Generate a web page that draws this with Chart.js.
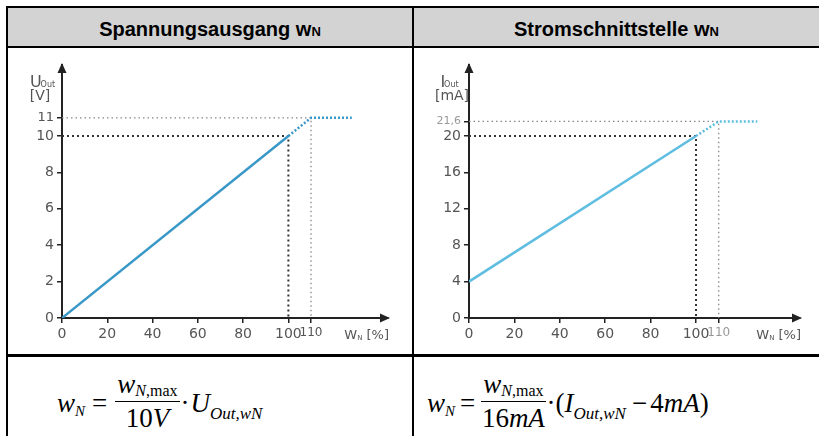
<!DOCTYPE html>
<html lang="de">
<head>
<meta charset="UTF-8">
<title>Spannungsausgang / Stromschnittstelle</title>
<script src="https://cdn.jsdelivr.net/npm/chart.js"></script>
<style>
  body { margin: 0; background: #fff; }
  #page { position: relative; width: 819px; height: 436px; overflow: hidden; background: #fff; }
  .line { position: absolute; background: #000; }
  .head { position: absolute; top: 8px; height: 38px; background: #d3d3d3; text-align: center;
          font: bold 20px "Liberation Sans", Arial, sans-serif; line-height: 42px; color: #000; }
  .head sub { font-size: 13px; vertical-align: 0; line-height: 0; }
  canvas { position: absolute; }
  .formula { position: absolute; top: 369px; font-family: "Liberation Serif", "Times New Roman", serif;
             font-size: 27px; line-height: 30px; color: #000; white-space: nowrap; }
  .formula sub { font-size: 17px; vertical-align: -7px; line-height: 0; }
  .formula sub.n { font-size: 15px; vertical-align: -4px; }
  .frac { display: inline-block; vertical-align: -15px; text-align: center; margin: 0 1px; }
  .frac .num { display: block; height: 30px; line-height: 30px; padding: 0 2px 2px; border-bottom: 1px solid #000; }
  .frac .num sub { font-size: 16px; vertical-align: -3px; }
  .frac .den { display: block; height: 28px; line-height: 28px; padding-top: 2px; }
  .op { margin: 0 7px; }
</style>
</head>
<body>
<div id="page">
  <div class="head" style="left:8px;width:404px;"><span>Spannungsausgang w<sub>N</sub></span></div>
  <div class="head" style="left:414px;width:405px;"><span>Stromschnittstelle w<sub>N</sub></span></div>

  <div class="line" style="left:6px;top:6px;width:813px;height:2px;"></div>
  <div class="line" style="left:6px;top:6px;width:2px;height:430px;"></div>
  <div class="line" style="left:6px;top:46px;width:813px;height:2px;"></div>
  <div class="line" style="left:412px;top:6px;width:2px;height:430px;"></div>
  <div class="line" style="left:6px;top:354px;width:813px;height:3px;"></div>

  <canvas id="chartU" width="404" height="306" style="left:8px;top:48px;"></canvas>
  <canvas id="chartI" width="405" height="306" style="left:414px;top:48px;"></canvas>

  <div class="formula" style="left:57px;"><i>w</i><sub class="n"><i>N</i></sub><span class="op">=</span><span class="frac"><span class="num"><i>w</i><sub><i>N</i>,max</sub></span><span class="den">10<i>V</i></span></span><span style="margin-right:1px;">&middot;</span><i>U</i><sub><i>Out,wN</i></sub></div>
  <div class="formula" style="left:427px;"><i>w</i><sub class="n"><i>N</i></sub><span class="op" style="margin:0 5px;">=</span><span class="frac"><span class="num"><i>w</i><sub><i>N</i>,max</sub></span><span class="den">16<i>mA</i></span></span><span>&middot;(</span><i>I</i><sub><i>Out,wN</i></sub><span class="op" style="margin:0 3px 0 6px;">&minus;</span>4<i>mA</i>)</div>
</div>

<script>
// x axis: w_N in %
const xTicks = [0, 20, 40, 60, 80, 100, 110];

// voltage output
const uTicks = [0, 2, 4, 6, 8, 10, 11];
const uLineX = [0, 100];
const uLineY = [0, 10];
const uSatX = [100, 110, 128];
const uSatY = [10, 11, 11];

// current interface
const iTicks = [0, 4, 8, 12, 16, 20, 21.6];
const iLineX = [0, 100];
const iLineY = [4, 20];
const iSatX = [100, 110, 127];
const iSatY = [20, 21.6, 21.6];

const tickFont = 'DejaVu Sans';
const tickColor = '#555';

function pts(xs, ys) {
    return xs.map((x, i) => ({ x: x, y: ys[i] }));
}

// arrows at the axis ends and the axis names
const axisDecor = {
    id: 'axisDecor',
    afterDraw(chart, args, opts) {
        const ctx = chart.ctx;
        const a = chart.chartArea;
        ctx.save();
        ctx.fillStyle = '#222';
        ctx.beginPath();
        ctx.moveTo(a.right + 2, a.bottom);
        ctx.lineTo(a.right - 8, a.bottom - 4.5);
        ctx.lineTo(a.right - 8, a.bottom + 4.5);
        ctx.closePath();
        ctx.fill();
        ctx.beginPath();
        ctx.moveTo(a.left, a.top - 2);
        ctx.lineTo(a.left - 4.5, a.top + 8);
        ctx.lineTo(a.left + 4.5, a.top + 8);
        ctx.closePath();
        ctx.fill();

        ctx.fillStyle = tickColor;
        ctx.textBaseline = 'alphabetic';
        // y name with subscript
        ctx.font = '16px ' + tickFont;
        const bw = ctx.measureText(opts.yName).width;
        ctx.font = '8px ' + tickFont;
        const sw = ctx.measureText('Out').width;
        let x0 = a.left - 19 - (bw + sw) / 2;
        ctx.font = '16px ' + tickFont;
        ctx.fillText(opts.yName, x0, a.top + 22);
        ctx.font = '8px ' + tickFont;
        ctx.fillText('Out', x0 + bw - 1, a.top + 22);
        ctx.font = '14px ' + tickFont;
        ctx.textAlign = 'center';
        ctx.fillText(opts.yUnit, a.left - 19 + opts.unitShift, a.top + 35);

        // x name
        ctx.textAlign = 'left';
        ctx.font = '13px ' + tickFont;
        const ww = ctx.measureText('W').width;
        ctx.font = '7px ' + tickFont;
        const nw = ctx.measureText('N').width;
        ctx.font = '13px ' + tickFont;
        const pw = ctx.measureText(' [%]').width;
        x0 = a.right + 1 - (ww + nw + pw);
        const yb = a.bottom + 21;
        ctx.fillText('W', x0, yb);
        ctx.font = '7px ' + tickFont;
        ctx.fillText('N', x0 + ww, yb + 1);
        ctx.font = '13px ' + tickFont;
        ctx.fillText(' [%]', x0 + ww + nw, yb);
        ctx.restore();
    }
};

function makeChart(id, o) {
    const guide10 = pts([0, o.satX[0], o.satX[0]], [o.satY[0], o.satY[0], o.yTicks[0]]);
    const guide11 = pts([0, o.satX[1], o.satX[1]], [o.satY[1], o.satY[1], o.yTicks[0]]);
    const top = o.yTicks[o.yTicks.length - 1];
    return new Chart(document.getElementById(id), {
        type: 'scatter',
        data: {
            datasets: [
                { data: pts(o.lineX, o.lineY), showLine: true, borderColor: o.color, borderWidth: 2.5, pointRadius: 0 },
                { data: pts(o.satX, o.satY), showLine: true, borderColor: o.color, borderWidth: 2.5, borderDash: [2, 2], pointRadius: 0 },
                { data: guide10, showLine: true, borderColor: '#333', borderWidth: 2, borderDash: [2, 3], pointRadius: 0 },
                { data: guide11, showLine: true, borderColor: '#888', borderWidth: 1.3, borderDash: [1.5, 3], pointRadius: 0 }
            ]
        },
        options: {
            responsive: false,
            animation: false,
            layout: { padding: { left: 0, top: 17, right: o.padRight, bottom: 0 } },
            plugins: {
                legend: { display: false },
                tooltip: { enabled: false },
                axisDecor: { yName: o.yName, yUnit: o.yUnit, unitShift: o.unitShift }
            },
            scales: {
                x: {
                    type: 'linear', min: 0, max: o.xMax,
                    afterBuildTicks: s => { s.ticks = xTicks.map(v => ({ value: v })); },
                    afterFit: s => { s.height = 36; },
                    border: { display: true, color: '#222', width: 2 },
                    grid: { drawOnChartArea: false, drawTicks: true, tickLength: 5, color: '#222', lineWidth: 1.5 },
                    ticks: {
                        autoSkip: false, maxRotation: 0, padding: 3,
                        color: c => (c.tick && c.tick.value === 110) ? o.smallColor : tickColor,
                        font: c => ({ family: tickFont, size: (c.tick && c.tick.value === 110) ? 12 : 14 })
                    }
                },
                y: {
                    type: 'linear', min: 0, max: o.yMax,
                    afterBuildTicks: s => { s.ticks = o.yTicks.map(v => ({ value: v })); },
                    afterFit: s => { s.width = o.yWidth; },
                    border: { display: true, color: '#222', width: 2 },
                    grid: { drawOnChartArea: false, drawTicks: true, tickLength: 5, color: '#222', lineWidth: 1.5 },
                    ticks: {
                        autoSkip: false, padding: 3,
                        callback: v => String(v).replace('.', ','),
                        color: c => (c.tick && c.tick.value === top) ? o.smallColor : tickColor,
                        font: c => ({ family: tickFont, size: (c.tick && c.tick.value === top) ? o.topSize : 14 })
                    }
                }
            }
        },
        plugins: [axisDecor]
    });
}

makeChart('chartU', {
    lineX: uLineX, lineY: uLineY, satX: uSatX, satY: uSatY, yTicks: uTicks,
    color: '#3a98c8', xMax: 144, yMax: 13.9, yWidth: 54, padRight: 24,
    yName: 'U', yUnit: '[V]', unitShift: -3, smallColor: '#555', topSize: 13
});
makeChart('chartI', {
    lineX: iLineX, lineY: iLineY, satX: iSatX, satY: iSatY, yTicks: iTicks,
    color: '#5ebde0', xMax: 145.8, yMax: 27.8, yWidth: 55, padRight: 19,
    yName: 'I', yUnit: '[mA]', unitShift: 2, smallColor: '#999', topSize: 11
});
</script>
</body>
</html>
